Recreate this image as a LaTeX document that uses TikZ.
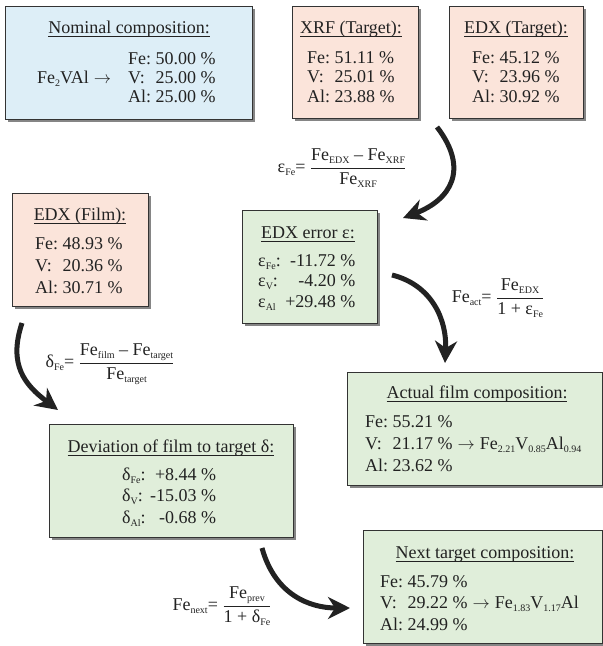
\documentclass[tikz,border=0pt]{standalone}
\usepackage{amsmath}
\usepackage{fontspec}
\setmainfont{Liberation Serif}
\usetikzlibrary{arrows.meta,shadows}
\definecolor{pinkfill}{HTML}{FBE4DA}
\definecolor{greenfill}{HTML}{E0EEDA}
\definecolor{bluefill}{HTML}{DDEEF7}
\definecolor{edge}{HTML}{333333}
\definecolor{ink}{HTML}{222222}
\newcommand\myul[1]{\setbox0\hbox{#1}\rlap{\rule[-3.5pt]{\wd0}{0.7pt}}\box0}
\newcommand\sub[1]{\raisebox{-3pt}{\fontsize{10}{10}\selectfont #1}}
\newcommand\rarr{\hspace{5pt}$\rightarrow$\hspace{5pt}}
\tikzset{
  box/.style={draw=edge, line width=1pt, anchor=north west, inner sep=0pt,
    drop shadow={shadow xshift=2.5pt, shadow yshift=-2.5pt, fill=black!60, opacity=0.8}},
  txt/.style={inner sep=0pt, text=ink, font=\fontsize{18}{20}\selectfont},
  ttl/.style={txt, anchor=base},
  dat/.style={txt, anchor=base west, font=\fontsize{18}{#1}\selectfont},
  dat/.default=20,
  frm/.style={txt},
  bigarrow/.style={line width=5pt, draw=ink, -{Stealth[length=22pt,width=22pt,inset=7pt]}},
}
\begin{document}
\begin{tikzpicture}[x=1pt,y=-1pt]
\useasboundingbox (0,0) rectangle (603,646);

% boxes
\node[box, fill=bluefill,  minimum width=247pt, minimum height=113pt] (nom) at (5,6) {};
\node[box, fill=pinkfill,  minimum width=126pt, minimum height=112pt] (xrf) at (292,6) {};
\node[box, fill=pinkfill,  minimum width=134pt, minimum height=112pt] (edxt) at (449,6) {};
\node[box, fill=pinkfill,  minimum width=136pt, minimum height=113pt] (film) at (12,193) {};
\node[box, fill=greenfill, minimum width=135pt, minimum height=113pt] (err) at (242,210) {};
\node[box, fill=greenfill, minimum width=255pt, minimum height=113pt] (act) at (347,372) {};
\node[box, fill=greenfill, minimum width=244pt, minimum height=113pt] (dev) at (49,424) {};
\node[box, fill=greenfill, minimum width=239pt, minimum height=113pt] (next) at (363,530) {};

% nominal
\node[ttl] (nomt) at (129,33) {\myul{Nominal composition:}};
\node[dat=19] (nomd) at (128,64) {\begin{tabular}[t]{@{}l@{\ }l@{}}Fe: & 50.00~\%\\ V: & 25.00~\%\\ Al: & 25.00~\%\end{tabular}};
\node[dat] (nomf) at (37,83) {Fe\sub{2}VAl\rarr};

% XRF target
\node[ttl] (xrft) at (351,33) {\myul{XRF (Target):}};
\node[dat=19.5] (xrfd) at (307,63) {\begin{tabular}[t]{@{}l@{\ }l@{}}Fe: & 51.11~\%\\ V: & 25.01~\%\\ Al: & 23.88~\%\end{tabular}};

% EDX target
\node[ttl] (edxtt) at (516,33) {\myul{EDX (Target):}};
\node[dat=19.5] (edxtd) at (472,63) {\begin{tabular}[t]{@{}l@{\ }l@{}}Fe: & 45.12~\%\\ V: & 23.96~\%\\ Al: & 30.92~\%\end{tabular}};

% EDX film
\node[ttl] (filmt) at (80,220) {\myul{EDX (Film):}};
\node[dat=22] (filmd) at (35,249) {\begin{tabular}[t]{@{}l@{\ }l@{}}Fe: & 48.93~\%\\ V: & 20.36~\%\\ Al: & 30.71~\%\end{tabular}};

% EDX error
\node[ttl] (errt) at (308,238) {\myul{EDX error ε:}};
\node[dat=20.5] (errd) at (258,266) {\begin{tabular}[t]{@{}l@{\ }r@{}}ε\sub{Fe}: & -11.72~\%\\ ε\sub{V}: & -4.20~\%\\ ε\sub{Al} & +29.48~\%\end{tabular}};

% actual
\node[ttl] (actt) at (477,398) {\myul{Actual film composition:}};
\node[dat=22] (actd) at (365,427) {\begin{tabular}[t]{@{}l@{\ }l@{}l@{}}Fe: & 55.21~\% & \\ V: & 21.17~\% & \rarr Fe\sub{2.21}V\sub{0.85}Al\sub{0.94}\\ Al: & 23.62~\% & \end{tabular}};

% deviation
\node[ttl] (devt) at (171,452) {\myul{Deviation of film to target δ:}};
\node[dat=21.5] (devd) at (122,480) {\begin{tabular}[t]{@{}l@{\ }r@{}}δ\sub{Fe}: & +8.44~\%\\ δ\sub{V}: & -15.03~\%\\ δ\sub{Al}: & -0.68~\%\end{tabular}};

% next
\node[ttl] (nextt) at (485,558) {\myul{Next target composition:}};
\node[dat=21.5] (nextd) at (380,587) {\begin{tabular}[t]{@{}l@{\ }l@{}l@{}}Fe: & 45.79~\% & \\ V: & 29.22~\% & \rarr Fe\sub{1.83}V\sub{1.17}Al\\ Al: & 24.99~\% & \end{tabular}};

% formulas
\node[frm] (feps) at (342,168) {ε\sub{Fe}= $\dfrac{\text{Fe\sub{EDX} – Fe\sub{XRF}}}{\text{Fe\sub{XRF}}}$};
\node[frm] (fact) at (498,298) {Fe\sub{act}= $\dfrac{\text{Fe\sub{EDX}}}{\text{1 + ε\sub{Fe}}}$};
\node[frm] (fdel) at (110,364) {δ\sub{Fe}= $\dfrac{\text{Fe\sub{film} – Fe\sub{target}}}{\text{Fe\sub{target}}}$};
\node[frm] (fnext) at (222,606) {Fe\sub{next}= $\dfrac{\text{Fe\sub{prev}}}{\text{1 + δ\sub{Fe}}}$};

% arrows
\coordinate (a1s) at (437,127); \coordinate (a1e) at (403,218);
\coordinate (a2s) at (392,275); \coordinate (a2e) at (445,363);
\coordinate (a3s) at (22,323);  \coordinate (a3e) at (58,410);
\coordinate (a4s) at (262,548); \coordinate (a4e) at (350,608);
\draw[bigarrow] (a1s) .. controls (470,170) and (450,200) .. (a1e);
\draw[bigarrow] (a2s) .. controls (432,285) and (447,320) .. (a2e);
\draw[bigarrow] (a3s) .. controls (8,365) and (25,385) .. (a3e);
\draw[bigarrow] (a4s) .. controls (275,595) and (310,608) .. (a4e);
\end{tikzpicture}
\end{document}
